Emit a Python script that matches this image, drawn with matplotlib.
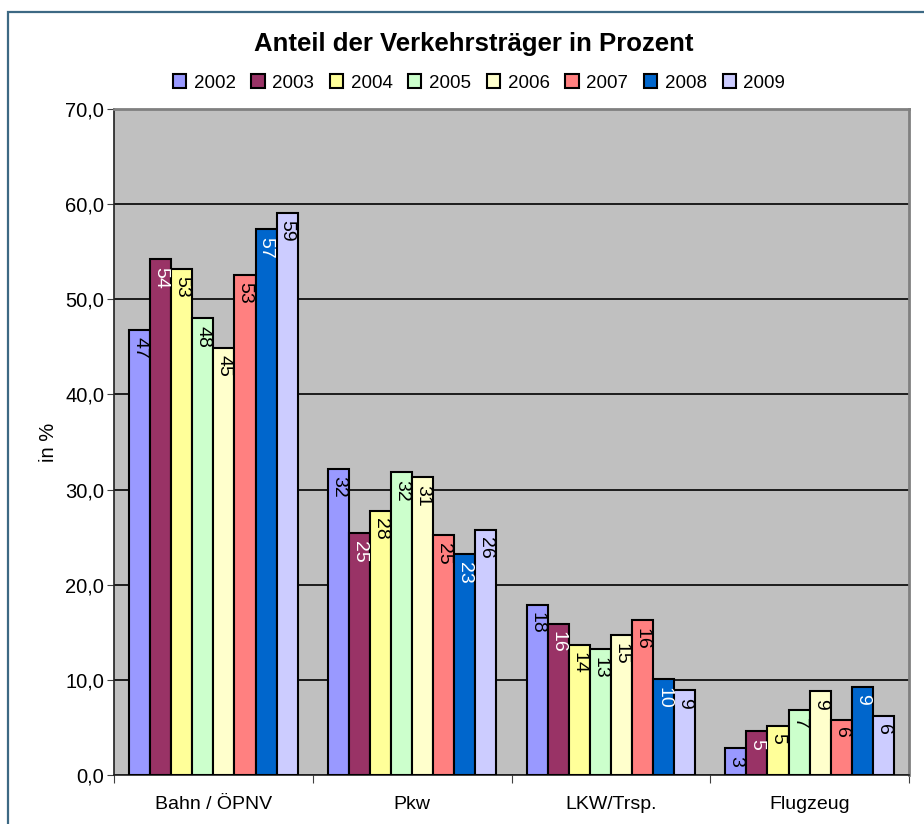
import matplotlib.pyplot as plt
import numpy as np
from matplotlib.patches import Rectangle

plt.rcParams['font.family'] = ['Liberation Sans', 'DejaVu Sans']

categories = ['Bahn / ÖPNV', 'Pkw', 'LKW/Trsp.', 'Flugzeug']
years = ['2002', '2003', '2004', '2005', '2006', '2007', '2008', '2009']

# share per year, one list per category
bahn = [46.8, 54.2, 53.2, 48.0, 44.9, 52.6, 57.4, 59.1]
pkw = [32.2, 25.4, 27.8, 31.8, 31.3, 25.2, 23.2, 25.8]
lkw = [17.9, 15.9, 13.7, 13.2, 14.7, 16.3, 10.1, 8.9]
flug = [2.8, 4.6, 5.2, 6.8, 8.8, 5.8, 9.3, 6.2]

colors = ['#9999FF', '#993366', '#FFFF99', '#CCFFCC',
          '#FFFFCC', '#FF8080', '#0066CC', '#CCCCFF']
label_colors = ['black', 'white', 'black', 'black',
                'black', 'black', 'white', 'black']

data = np.array([bahn, pkw, lkw, flug])  # shape (cat, year)

fig = plt.figure(figsize=(9.24, 8.24), dpi=100)
ax = fig.add_axes([114 / 924, 1 - 775 / 824, 795 / 924, 666 / 824])
ax.set_facecolor('#C0C0C0')

# outer chart frame (cut off at right and bottom)
fig.patches.append(Rectangle((8 / 924, -0.2), 2, 1.2 - 12 / 824,
                             transform=fig.transFigure, fill=False,
                             edgecolor='#3D6984', lw=1.6))

width = 0.106
centers = np.arange(len(categories)) + 0.5
for j, year in enumerate(years):
    xs = centers + (j - 3.5) * width
    ax.bar(xs, data[:, j], width, color=colors[j], edgecolor='black',
           lw=1.5, label=year, zorder=3)
    for x, v in zip(xs, data[:, j]):
        ax.annotate(f'{v:.0f}', (x, v), xytext=(0, -5.5),
                    textcoords='offset points', rotation=270,
                    ha='center', va='top', fontsize=14,
                    color=label_colors[j], zorder=4)

ax.set_xlim(0, 4)
ax.set_ylim(0, 70)
yt = np.arange(0, 71, 10)
ax.set_yticks(yt)
ax.set_yticklabels([f'{v:.1f}'.replace('.', ',') for v in yt], fontsize=14.5)
ax.yaxis.grid(True, color='black', lw=1.2, zorder=1)
ax.set_axisbelow(True)

ax.set_xticks([0, 1, 2, 3, 4])
ax.set_xticklabels([])
ax.set_xticks(centers, minor=True)
ax.set_xticklabels(categories, minor=True, fontsize=14)
ax.tick_params(axis='x', which='minor', length=0, pad=15)
ax.tick_params(axis='x', which='major', length=6, color='#404040')
ax.tick_params(axis='y', length=5, color='#404040', pad=2)

for side in ['top', 'right']:
    ax.spines[side].set_color('#808080')
    ax.spines[side].set_linewidth(2)
for side in ['left', 'bottom']:
    ax.spines[side].set_color('#202020')
    ax.spines[side].set_linewidth(1.2)

ax.set_ylabel('in %', fontsize=14.5, labelpad=5)

fig.text(474 / 924, 1 - 44 / 824, 'Anteil der Verkehrsträger in Prozent',
         ha='center', va='center', fontsize=18.5, fontweight='bold')

fig.legend(loc='center', bbox_to_anchor=(479 / 924, 1 - 83 / 824), ncol=8,
           frameon=False, fontsize=13.5, handlelength=0.7, handleheight=0.7,
           handletextpad=0.4, columnspacing=0.85, borderpad=0)

fig.savefig('out.png', dpi=100)
